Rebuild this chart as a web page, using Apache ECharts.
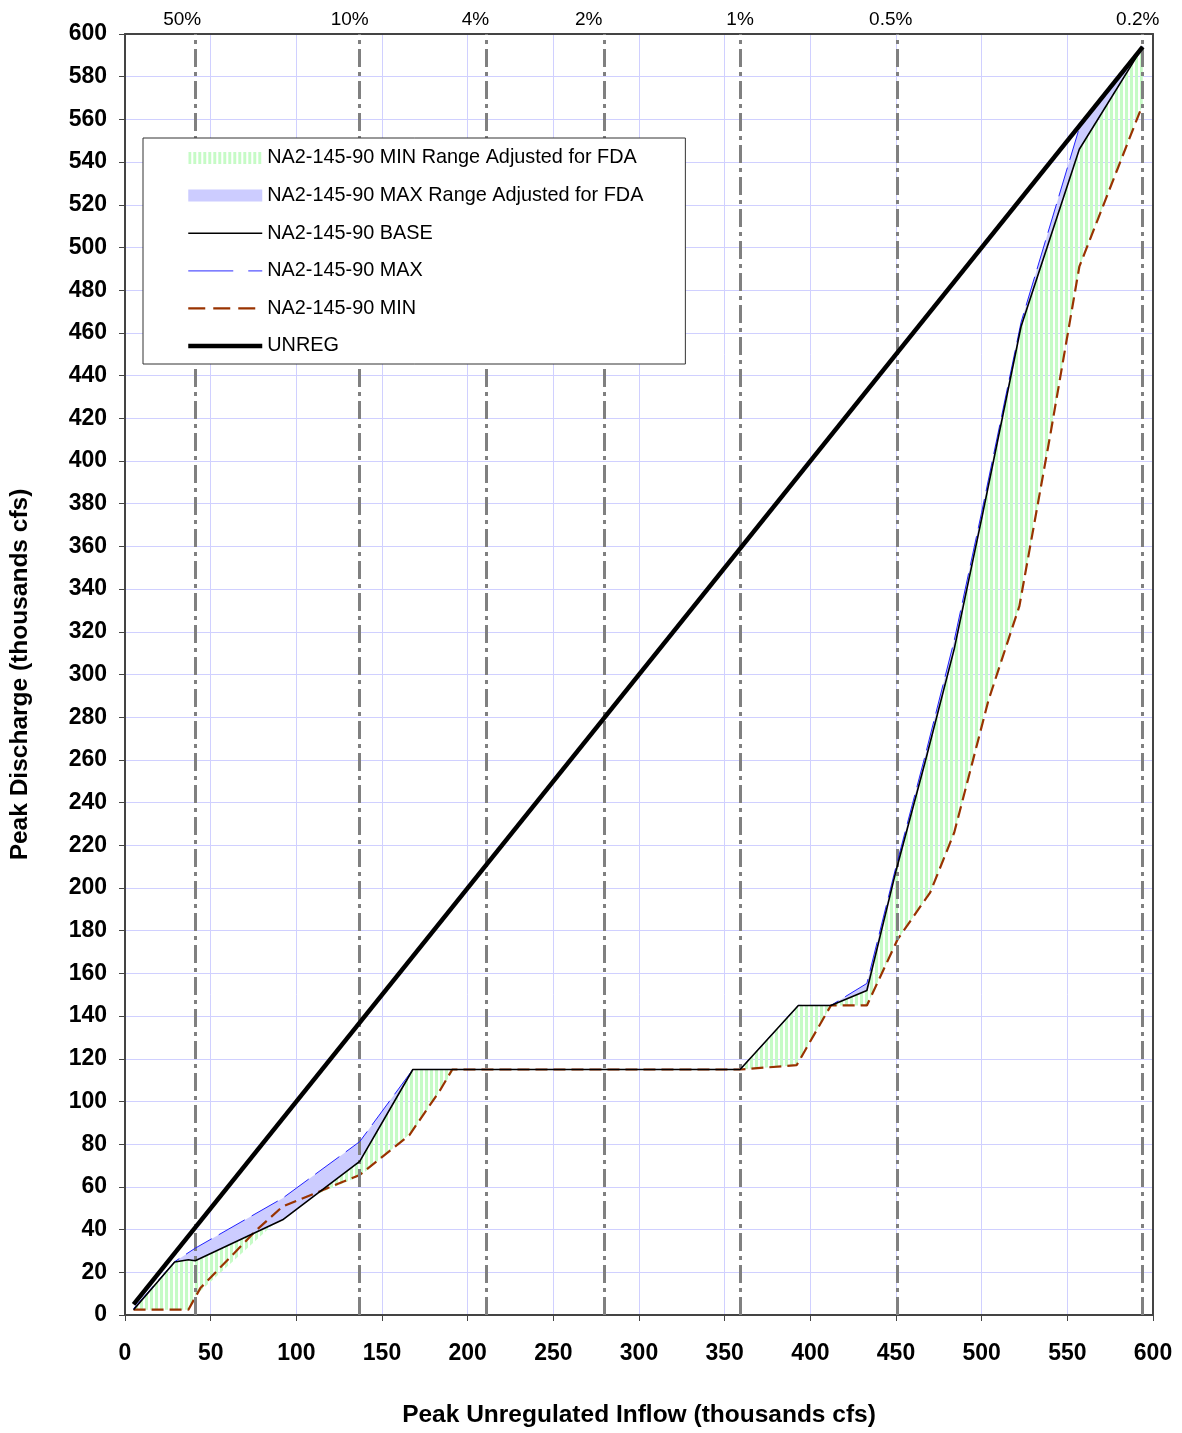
<!DOCTYPE html>
<html>
<head>
<meta charset="utf-8">
<script src="https://cdn.jsdelivr.net/npm/echarts@6/dist/echarts.min.js"></script>
<style>
html,body{margin:0;padding:0;background:#fff;}
#chart{width:1182px;height:1433px;}
</style>
</head>
<body>
<div id="chart"></div>
<script>
// ---- Data (thousands cfs) ----
const baseX = [5, 29, 37, 41, 92, 137, 168, 359, 393, 412, 433, 450, 467, 484, 500, 523, 557, 594];
const baseY = [2.5, 24.8, 25.9, 25.4, 44.6, 72, 115, 115, 145, 145, 152, 208, 259, 312, 373, 463, 546, 594];

const maxX = [5, 29, 41, 92, 137, 168, 359, 393, 412, 433, 450, 467, 484, 500, 523, 557, 594];
const maxY = [3, 25, 31.3, 54.7, 81.2, 115, 115, 145, 145, 155.3, 210, 262, 316, 376, 465, 556, 594];

const minX = [5, 37, 44, 77, 92, 137, 166, 184, 191, 359, 392, 412, 433, 451, 470, 484, 504, 522, 540, 557, 594];
const minY = [2.5, 2.5, 12.6, 40, 50.8, 65.6, 84.3, 105.4, 115, 115, 117, 145, 145, 176, 198, 226, 288, 332, 412, 491, 567];

// lower edge of the "MIN Range Adjusted for FDA" band
const minAdjX = [5, 37, 41, 87, 112, 137, 168, 181, 192, 359, 392, 412, 433, 451, 470, 484, 504, 522, 540, 557, 594];
const minAdjY = [2.5, 2.5, 9, 42.7, 56.6, 65, 86, 101.5, 115, 115, 117, 145, 145, 176, 198, 226, 288, 332, 412, 491, 567];

const unregX = [5, 594];
const unregY = [5, 594];

// frequency reference lines
const freqX = [41, 137, 211, 280, 359, 451, 594];
const freqLabels = ['50%', '10%', '4%', '2%', '1%', '0.5%', '0.2%'];

const xTicks = { min: 0, max: 600, interval: 50 };
const yTicks = { min: 0, max: 600, interval: 20 };

const names = {
  minRange: 'NA2-145-90 MIN Range Adjusted for FDA',
  maxRange: 'NA2-145-90 MAX Range Adjusted for FDA',
  base: 'NA2-145-90 BASE',
  max: 'NA2-145-90 MAX',
  min: 'NA2-145-90 MIN',
  unreg: 'UNREG'
};

// ---- helpers ----
function pairs(xs, ys) { return xs.map((x, i) => [x, ys[i]]); }

function stripeCanvas() {
  const c = document.createElement('canvas');
  c.width = 5; c.height = 10;
  const ctx = c.getContext('2d');
  ctx.fillStyle = '#c6fbc6';
  ctx.fillRect(0, 0, 3, 10);
  return c;
}
const stripePattern = { image: stripeCanvas(), repeat: 'repeat' };

function bandRender(ux, uy, lx, ly, fill) {
  return function (params, api) {
    if (params.dataIndex !== 0) return null;
    const pts = [];
    for (let i = 0; i < ux.length; i++) pts.push(api.coord([ux[i], uy[i]]));
    for (let i = lx.length - 1; i >= 0; i--) pts.push(api.coord([lx[i], ly[i]]));
    return { type: 'polygon', shape: { points: pts }, style: { fill: fill, stroke: null } };
  };
}

const FONT = 'Liberation Sans, Arial, sans-serif';
const labelOffsets = [-13, -10, -11, -16, 0, -7, -5];
const hiddenSymbol = { opacity: 0 };

const chart = echarts.init(document.getElementById('chart'), null, { renderer: 'canvas' });

const frameAxis = {
  axisLine: { show: true, onZero: false, lineStyle: { color: '#444', width: 2 } },
  axisTick: { show: false }, axisLabel: { show: false }, splitLine: { show: false }
};

const option = {
  animation: false,
  backgroundColor: '#ffffff',
  textStyle: { fontFamily: FONT },
  grid: { left: 125, right: 29, top: 34, bottom: 116 },
  legend: {
    z: 20,
    orient: 'vertical',
    left: 143, top: 138,
    padding: [10, 42, 8, 43],
    itemWidth: 74, itemHeight: 12, itemGap: 17.6,
    backgroundColor: '#fff', borderColor: '#333', borderWidth: 1,
    textStyle: { fontSize: 19.85, color: '#000', lineHeight: 20, fontFamily: FONT },
    selectedMode: false,
    data: [
      { name: names.minRange, icon: 'rect' },
      { name: names.maxRange, icon: 'rect' },
      { name: names.base, itemStyle: hiddenSymbol, lineStyle: { width: 1.6, type: 'solid', color: '#000' } },
      { name: names.max, itemStyle: hiddenSymbol, lineStyle: { width: 1.3, type: [45, 15], color: '#5555ff' } },
      { name: names.min, itemStyle: hiddenSymbol, lineStyle: { width: 2.2, type: [17, 8], color: '#993300' } },
      { name: names.unreg, itemStyle: hiddenSymbol, lineStyle: { width: 4.5, type: 'solid', color: '#000' } }
    ]
  },
  xAxis: [{
    type: 'value', min: xTicks.min, max: xTicks.max, interval: xTicks.interval,
    name: 'Peak Unregulated Inflow (thousands cfs)',
    nameLocation: 'middle', nameGap: 88,
    nameTextStyle: { fontSize: 24.5, fontWeight: 'bold', color: '#000', fontFamily: FONT },
    axisLine: { show: true, onZero: false, lineStyle: { color: '#444', width: 2 } },
    axisTick: { show: true, inside: false, length: 6, lineStyle: { color: '#444', width: 1 } },
    axisLabel: { fontSize: 23, fontWeight: 'bold', color: '#000', margin: 27, fontFamily: FONT },
    splitLine: { show: true, lineStyle: { color: '#d0d0ff', width: 1 } }
  }, Object.assign({
    type: 'value', position: 'top', min: xTicks.min, max: xTicks.max, interval: xTicks.interval
  }, frameAxis)],
  yAxis: [{
    type: 'value', min: yTicks.min, max: yTicks.max, interval: yTicks.interval,
    name: 'Peak Discharge (thousands cfs)',
    nameLocation: 'middle', nameGap: 92,
    nameTextStyle: { fontSize: 24.5, fontWeight: 'bold', color: '#000', fontFamily: FONT },
    axisLine: { show: true, onZero: false, lineStyle: { color: '#444', width: 2 } },
    axisTick: { show: true, inside: false, length: 6, lineStyle: { color: '#444', width: 1 } },
    axisLabel: { fontSize: 23, fontWeight: 'bold', color: '#000', margin: 18, fontFamily: FONT },
    splitLine: { show: true, lineStyle: { color: '#d0d0ff', width: 1 } }
  }, Object.assign({
    type: 'value', position: 'right', min: yTicks.min, max: yTicks.max, interval: yTicks.interval
  }, frameAxis)],
  series: [
    {
      name: names.minRange, type: 'custom', z: 1, clip: true,
      renderItem: bandRender(baseX, baseY, minAdjX, minAdjY, stripePattern),
      itemStyle: { color: stripePattern },
      encode: { x: 0, y: 1 },
      data: pairs(baseX, baseY)
    },
    {
      name: names.maxRange, type: 'custom', z: 2, clip: true,
      renderItem: bandRender(maxX, maxY, baseX, baseY, '#ccccff'),
      itemStyle: { color: '#ccccff' },
      encode: { x: 0, y: 1 },
      data: pairs(maxX, maxY)
    },
    {
      name: 'freq', type: 'line', z: 3, silent: true,
      data: pairs(freqX, freqX.map(() => 600)),
      symbol: 'none', lineStyle: { opacity: 0 },
      markLine: {
        silent: true, symbol: ['none', 'none'], animation: false,
        lineStyle: { color: '#808080', width: 3, type: [18, 5, 4, 5] },
        label: { show: true, position: 'end', distance: 5, color: '#000', fontSize: 19, fontFamily: FONT },
        data: freqX.map((x, i) => ({ xAxis: x, label: { formatter: freqLabels[i], offset: [labelOffsets[i], 0] } }))
      }
    },
    {
      name: names.min, type: 'line', z: 4, symbol: 'none', showSymbol: false,
      data: pairs(minX, minY),
      lineStyle: { color: '#993300', width: 2.2, type: [12, 6] },
      itemStyle: { color: '#993300' }
    },
    {
      name: names.max, type: 'line', z: 5, symbol: 'none', showSymbol: false,
      data: pairs(maxX, maxY),
      lineStyle: { color: '#2020ff', width: 1, type: [30, 8] },
      itemStyle: { color: '#2020ff' }
    },
    {
      name: names.base, type: 'line', z: 6, symbol: 'none', showSymbol: false,
      data: pairs(baseX, baseY),
      lineStyle: { color: '#000', width: 1.6 },
      itemStyle: { color: '#000' }
    },
    {
      name: names.unreg, type: 'line', z: 7, symbol: 'none', showSymbol: false,
      data: pairs(unregX, unregY),
      lineStyle: { color: '#000', width: 4.5 },
      itemStyle: { color: '#000' }
    }
  ]
};

chart.setOption(option);
</script>
</body>
</html>
